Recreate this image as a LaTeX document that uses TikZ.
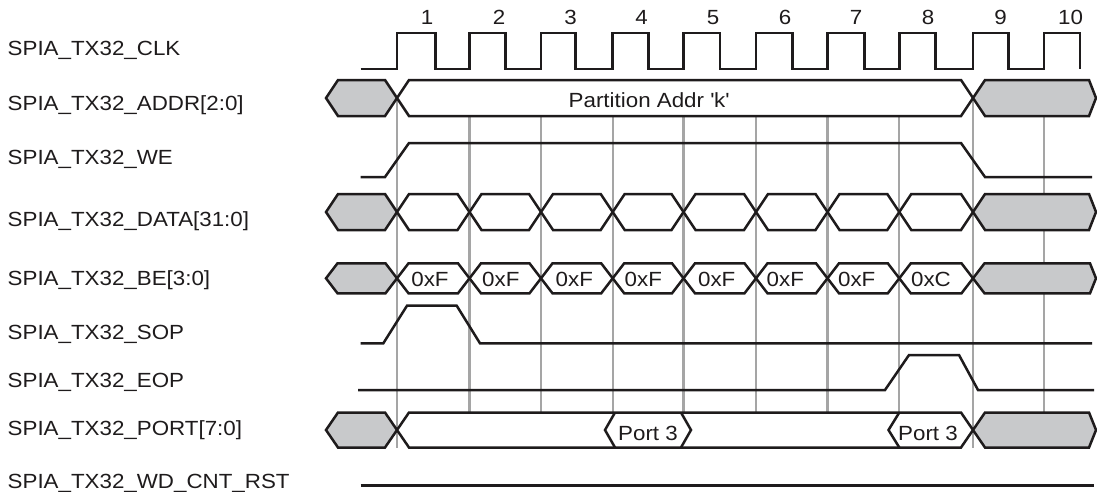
\documentclass[tikz,border=0pt]{standalone}
\usepackage{fontspec}
\setmainfont{Liberation Sans}[FakeStretch=1.09]
\definecolor{ink}{RGB}{30,27,28}
\definecolor{busgrey}{RGB}{200,201,203}
\definecolor{gridgrey}{RGB}{165,165,165}
% style, x1, x2, ycentre, halfheight, left slant, right slant
\newcommand\bushex[7]{\draw[#1] (#2,#4) -- ({#2+#6},{#4-#5}) -- ({#3-#7},{#4-#5}) -- (#3,#4) -- ({#3-#7},{#4+#5}) -- ({#2+#6},{#4+#5}) -- cycle;}
\begin{document}
\begin{tikzpicture}[x=1pt,y=-1pt,
  sig/.style={line width=2.5pt,draw=ink},
  busw/.style={sig,fill=white},
  busg/.style={sig,fill=busgrey},
  gridline/.style={line width=2.2pt,draw=gridgrey},
  lbl/.style={anchor=base west,inner sep=0pt,font=\fontsize{20.5}{24}\selectfont,text=ink},
  txt/.style={anchor=base,inner sep=0pt,font=\fontsize{20.5}{24}\selectfont,text=ink}]
\useasboundingbox (0,0) rectangle (1097,491);

% signal names
\node[lbl] (lclk)  at (7.5,55.5)  {SPIA\_TX32\_CLK};
\node[lbl] (laddr) at (7.5,110.5) {SPIA\_TX32\_ADDR[2:0]};
\node[lbl] (lwe)   at (7.5,164.5) {SPIA\_TX32\_WE};
\node[lbl] (ldata) at (7.5,226)   {SPIA\_TX32\_DATA[31:0]};
\node[lbl] (lbe)   at (7.5,285)   {SPIA\_TX32\_BE[3:0]};
\node[lbl] (lsop)  at (7.5,339.5) {SPIA\_TX32\_SOP};
\node[lbl] (leop)  at (7.5,387)   {SPIA\_TX32\_EOP};
\node[lbl] (lport) at (7.5,435)   {SPIA\_TX32\_PORT[7:0]};
\node[lbl] (lwd)   at (7.5,488.5) {SPIA\_TX32\_WD\_CNT\_RST};

% cycle numbers
\foreach \x/\n in {427/1,499/2,570.5/3,641.5/4,713/5,785/6,856/7,928/8,1000.5/9,1070.5/10}
  \node[txt] (num\n) at (\x,24) {\n};

% grid lines
\foreach \x in {397,469.5,541,612.7,683.5,756,827.5,899.3,973,1044}
  \draw[gridline] (\x,98) -- (\x,447.5);

% CLK
\draw[sig] (360.7,69) \foreach \r/\f in {397/435.7,469.5/505.7,541/575.3,612.7/648.3,683.5/720,756/792.7,827.5/864.3,899.3/935.7,973/1008.3,1044/1080}
  { -- (\r,69) -- (\r,33) -- (\f,33) -- (\f,69) };

% ADDR
\bushex{busg}{326}{397}{98}{18}{12}{12}
\bushex{busw}{397}{973}{98}{18}{12}{12}
\bushex{busg}{973}{1096}{98}{18}{12}{7}
\node[txt] (addrtxt) at (649,107.5) {Partition Addr \textquotesingle k\textquotesingle};

% WE
\draw[sig] (360.7,177) -- (385,177) -- (409,143) -- (961,143) -- (985,177) -- (1092,177);

% DATA
\bushex{busg}{326}{397}{212}{18}{12}{12}
\foreach \a/\b in {397/469.5,469.5/541,541/612.7,612.7/683.5,683.5/756,756/827.5,827.5/899.3,899.3/973}
  {\bushex{busw}{\a}{\b}{212}{18}{12}{12}}
\bushex{busg}{973}{1096}{212}{18}{12}{7}

% BE
\bushex{busg}{326}{397}{278.3}{15}{11.5}{11.5}
\foreach \a/\b in {397/469.5,469.5/541,541/612.7,612.7/683.5,683.5/756,756/827.5,827.5/899.3,899.3/973}
  {\bushex{busw}{\a}{\b}{278.3}{15}{11.5}{11.5}}
\bushex{busg}{973}{1096}{278.3}{15}{11.5}{6}
\foreach \x/\t/\k in {430/0xF/1,500.8/0xF/2,574.3/0xF/3,643.3/0xF/4,716.7/0xF/5,785.3/0xF/6,856.7/0xF/7,931/0xC/8}
  \node[txt] (be\k) at (\x,286.5) {\t};

% SOP
\draw[sig] (360.7,343.3) -- (383.3,343.3) -- (407,305.7) -- (456.7,305.7) -- (480,343.3) -- (1092,343.3);

% EOP
\draw[sig] (358,390) -- (885,390) -- (909,355) -- (959,355) -- (978,390) -- (1094,390);

% PORT
\bushex{busg}{326}{397}{430}{17.5}{12}{12}
\bushex{busw}{397}{973}{430}{17.5}{12}{12}
\bushex{busg}{973}{1096}{430}{17.5}{12}{7}
\draw[sig] (615,412.5) -- (605,430) -- (615,447.5);
\draw[sig] (681,412.5) -- (691,430) -- (681,447.5);
\draw[sig] (899.3,412.5) -- (888.5,430) -- (899.3,447.5);
\node[txt] (port1) at (648,440) {Port 3};
\node[txt] (port2) at (928,440) {Port 3};

% WD_CNT_RST
\draw[sig] (360.7,485.7) -- (1094,485.7);
\end{tikzpicture}
\end{document}
